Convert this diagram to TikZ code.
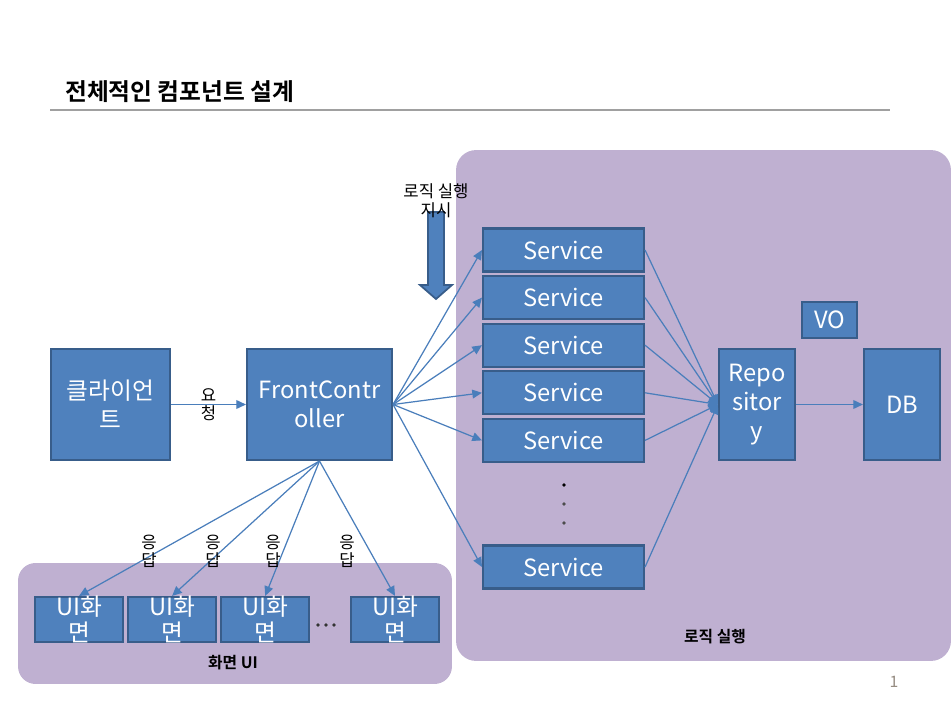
\documentclass[tikz,border=0pt]{standalone}
\usepackage{fontspec}
\setmainfont{Noto Sans CJK KR}[BoldFont={Noto Sans CJK KR Bold}]
\usetikzlibrary{positioning, arrows.meta}

\definecolor{boxfill}{RGB}{79,129,189}
\definecolor{boxline}{RGB}{56,93,138}
\definecolor{linkblue}{RGB}{74,126,187}
\definecolor{regionfill}{RGB}{191,176,209}
\definecolor{rulegray}{RGB}{160,160,160}
\definecolor{pagegray}{RGB}{150,140,130}

\begin{document}
\begin{tikzpicture}[
    % pixel-like units, y grows downwards
    x=0.02cm, y=-0.02cm,
    box/.style={
        rectangle,
        draw=boxline,
        line width=1.2pt,
        fill=boxfill,
        text=white,
        font=\fontsize{13.5}{16.5}\selectfont,
        align=center,
        inner sep=1pt
    },
    service/.style={box, minimum width=3.22cm, minimum height=0.86cm},
    screen/.style={box, minimum width=1.76cm, minimum height=0.9cm},
    screen text/.style={
        text=white,
        font=\fontsize{13.5}{15}\selectfont,
        align=center,
        inner sep=0pt
    },
    region/.style={
        rectangle,
        rounded corners=0.4cm,
        fill=regionfill,
        inner sep=0pt
    },
    link/.style={
        -{Triangle[length=5.5pt, width=5pt]}, % small filled head
        draw=linkblue,
        line width=0.7pt
    },
    label text/.style={
        font=\fontsize{9.5}{10.4}\selectfont,
        align=center,
        inner sep=0pt
    },
    group text/.style={
        font=\bfseries\fontsize{9}{10}\selectfont
    }
]
    \useasboundingbox (0,0) rectangle (951,703);

    % --- 1. Title ---
    \node[anchor=west, font=\bfseries\fontsize{13.5}{16}\selectfont] (title) at (59,92) {전체적인 컴포넌트 설계};
    \draw[rulegray, line width=1.2pt] (50,110) -- (890,110);

    % --- 2. Background regions ---
    \node[region, minimum width=9.9cm, minimum height=10.22cm] (logic) at (703.5,405.5) {};
    \node[region, rounded corners=0.35cm, minimum width=8.68cm, minimum height=2.42cm] (uiarea) at (235,623.5) {};
    \node[group text] (logiclabel) at (715,637) {로직 실행};
    \node[group text] (uilabel) at (233,663) {화면 UI};

    % --- 3. Place Nodes ---
    \node[box, minimum width=2.38cm, minimum height=2.22cm] (client) at (110.5,404.5) {클라이언\\트};
    \node[box, minimum width=2.9cm, minimum height=2.22cm] (fc) at (319.5,404.5) {FrontContr\\oller};

    % stack of services
    \node[service] (s1) at (563.5,250) {Service};
    \node[service] (s2) [below=0.05cm of s1] {Service};
    \node[service] (s3) [below=0.05cm of s2] {Service};
    \node[service] (s4) [below=0.05cm of s3] {Service};
    \node[service] (s5) [below=0.05cm of s4] {Service};
    \node[service] (s6) at (563.5,567) {Service};

    \node[box, minimum width=1.52cm, minimum height=2.22cm] (repo) at (757,404.5) {Repo\\sitor\\y};
    \node[box, minimum width=1.1cm, minimum height=0.72cm] (vo) at (829.5,320) {VO};
    \node[box, minimum width=1.52cm, minimum height=2.22cm] (db) at (902,404.5) {DB};

    % screens, text set on top so that it may run over the box
    \node[screen] (ui1) at (79,619.5) {};
    \node[screen] (ui2) [right=0.06cm of ui1] {};
    \node[screen] (ui3) [right=0.06cm of ui2] {};
    \node[screen] (ui4) at (395,619.5) {};
    \node[screen text] (ui1text) at (ui1) {UI화\\면};
    \node[screen text] (ui2text) at (ui2) {UI화\\면};
    \node[screen text] (ui3text) at (ui3) {UI화\\면};
    \node[screen text] (ui4text) at (ui4) {UI화\\면};

    % dots for the missing boxes
    \fill (564,485) circle (1.1pt);
    \fill[black!70] (564,504) circle (1.1pt);
    \fill[black!70] (564,523) circle (1.1pt);
    \fill[black!80] (318,625) circle (1.1pt);
    \fill[black!80] (326,625) circle (1.1pt);
    \fill[black!80] (334,625) circle (1.1pt);

    % block arrow with its caption
    \draw[boxline, fill=boxfill, line width=1pt] (428,212) -- (444,212) -- (444,285) -- (452,285)
        -- (436,299) -- (420,285) -- (428,285) -- cycle;
    \node[font=\fontsize{9.5}{10.8}\selectfont, align=center, inner sep=0pt] (order) at (436,201) {로직 실행\\지시};

    % --- 4. Draw Edges ---

    % Client -> FrontController
    \draw[link] (client) -- node[label text] {요\\청} (fc);

    % FrontController -> Services
    \draw[link] (fc.east) -- (s1.west);
    \draw[link] (fc.east) -- (s2.west);
    \draw[link] (fc.east) -- (s3.west);
    \draw[link] (fc.east) -- (s4.west);
    \draw[link] (fc.east) -- (s5.west);
    \draw[link] (fc.east) -- (s6.west);

    % Services -> Repository
    \draw[link] (s1.east) -- (repo.west);
    \draw[link] (s2.east) -- (repo.west);
    \draw[link] (s3.east) -- (repo.west);
    \draw[link] (s4.east) -- (repo.west);
    \draw[link] (s5.east) -- (repo.west);
    \draw[link] (s6.east) -- (repo.west);

    % Repository -> DB
    \draw[link] (repo) -- (db);

    % FrontController -> screens (response)
    \draw[link] (fc.south) -- (ui1.north);
    \draw[link] (fc.south) -- (ui2.north);
    \draw[link] (fc.south) -- (ui3.north);
    \draw[link] (fc.south) -- (ui4.north);
    \node[label text] (resp1) at (149,551) {응\\답};
    \node[label text] (resp2) at (213,551) {응\\답};
    \node[label text] (resp3) at (273,551) {응\\답};
    \node[label text] (resp4) at (347,551) {응\\답};

    % page number
    \node[text=pagegray, font=\fontsize{9}{10}\selectfont] (page) at (894,682) {1};

\end{tikzpicture}
\end{document}
